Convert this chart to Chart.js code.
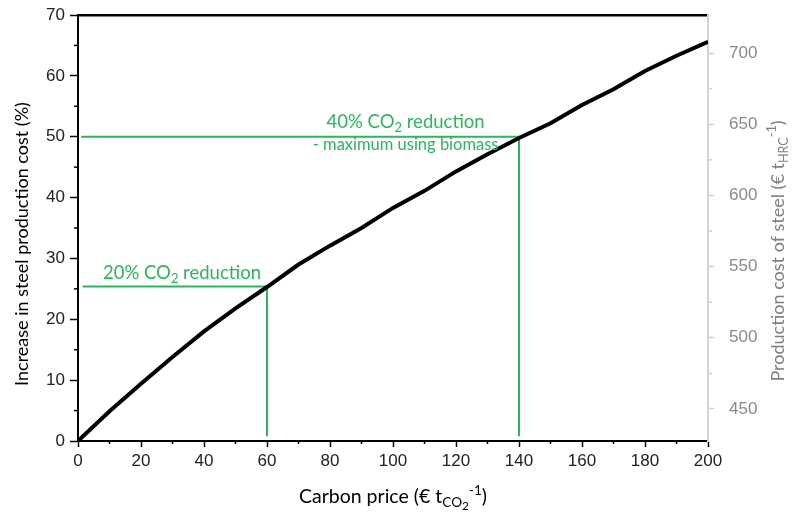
<!DOCTYPE html>
<html>
<head>
<meta charset="utf-8">
<script src="https://cdn.jsdelivr.net/npm/chart.js@4/dist/chart.umd.min.js"></script>
<style>
  html, body { margin: 0; padding: 0; background: #fff; }
</style>
</head>
<body>
<canvas id="steel-chart" width="792" height="516"></canvas>
<script>
// carbon price (EUR per t CO2) vs increase in steel production cost (%)
const carbonPrice = [0, 10, 20, 30, 40, 50, 60, 70, 80, 90, 100, 110, 120, 130, 140, 150, 160, 170, 180, 190, 200];
const costIncrease = [0, 4.9, 9.4, 13.8, 18.0, 21.8, 25.3, 29.0, 32.1, 35.0, 38.3, 41.1, 44.3, 47.1, 49.8, 52.2, 55.2, 57.8, 60.8, 63.3, 65.6];

// marker lines for the two reduction levels
const cut20X = [1.5, 60, 60];
const cut20Y = [25.4, 25.4, 0.8];
const cut40X = [1, 140, 140];
const cut40Y = [50, 50, 0.8];

const xTicks = [0, 20, 40, 60, 80, 100, 120, 140, 160, 180, 200];
const xMinor = [10, 30, 50, 70, 90, 110, 130, 150, 170, 190];
const leftTicks = [0, 10, 20, 30, 40, 50, 60, 70];
const leftMinor = [5, 15, 25, 35, 45, 55, 65];
const rightTicks = [450, 500, 550, 600, 650, 700];
const rightMinor = [475, 525, 575, 625, 675];

const GREEN = '#2bb65c';
const TICK_FAMILY = "'Liberation Sans', Arial, sans-serif";
const TICK_FONT = { family: TICK_FAMILY, size: 17 };
const TITLE_FAMILY = 'Lato, sans-serif';

function pts(xs, ys) {
    return xs.map((x, i) => ({ x: x, y: ys[i] }));
}

// draw text with sub/superscripts; level: 0 normal, 1 sub, 2 sub-sub, -1 sup
function richWidth(ctx, parts, size) {
    let w = 0;
    parts.forEach(p => {
        const s = p.l === 0 ? size : (p.l === 2 ? size * 0.6 : size * 0.7);
        ctx.font = s + 'px ' + TITLE_FAMILY;
        w += ctx.measureText(p.t).width;
    });
    return w;
}

function drawRich(ctx, parts, size, color, cx, cy, rot) {
    ctx.save();
    ctx.translate(cx, cy);
    if (rot) ctx.rotate(rot);
    ctx.fillStyle = color;
    ctx.textBaseline = 'alphabetic';
    ctx.textAlign = 'left';
    let x = -richWidth(ctx, parts, size) / 2;
    parts.forEach(p => {
        let s = size, dy = 0;
        if (p.l === 1) { s = size * 0.7; dy = size * 0.22; }
        if (p.l === 2) { s = size * 0.6; dy = size * 0.38; }
        if (p.l === -1) { s = size * 0.7; dy = -size * 0.42; }
        ctx.font = s + 'px ' + TITLE_FAMILY;
        ctx.fillText(p.t, x, dy);
        x += ctx.measureText(p.t).width;
    });
    ctx.restore();
}

const extras = {
    id: 'extras',
    afterDraw(chart) {
        const ctx = chart.ctx;
        const { x, y, y2 } = chart.scales;

        // minor ticks
        ctx.save();
        ctx.lineWidth = 1.5;
        ctx.strokeStyle = '#000';
        xMinor.forEach(v => {
            const px = x.getPixelForValue(v);
            ctx.beginPath(); ctx.moveTo(px, x.top); ctx.lineTo(px, x.top + 3); ctx.stroke();
        });
        leftMinor.forEach(v => {
            const py = y.getPixelForValue(v);
            ctx.beginPath(); ctx.moveTo(y.right, py); ctx.lineTo(y.right - 4, py); ctx.stroke();
        });
        ctx.strokeStyle = '#d0d0d0';
        rightMinor.forEach(v => {
            const py = y2.getPixelForValue(v);
            ctx.beginPath(); ctx.moveTo(y2.left, py); ctx.lineTo(y2.left + 4, py); ctx.stroke();
        });

        // right axis tick labels
        ctx.fillStyle = '#8a8a8a';
        ctx.font = '17px ' + TICK_FAMILY;
        ctx.textAlign = 'left';
        ctx.textBaseline = 'middle';
        rightTicks.forEach(v => {
            ctx.fillText(String(v), y2.left + 21, y2.getPixelForValue(v));
        });
        ctx.restore();

        // axis titles
        drawRich(ctx, [
            { t: 'Carbon price (€ t', l: 0 }, { t: 'CO', l: 1 }, { t: '2', l: 2 },
            { t: '-1', l: -1 }, { t: ')', l: 0 }
        ], 19.5, '#000', (x.left + x.right) / 2, 503, 0);

        drawRich(ctx, [{ t: 'Increase in steel production cost (%)', l: 0 }],
            18, '#000', 28, 244, -Math.PI / 2);

        drawRich(ctx, [
            { t: 'Production cost of steel (€ t', l: 0 }, { t: 'HRC', l: 1 },
            { t: '-1', l: -1 }, { t: ')', l: 0 }
        ], 18, '#808080', 784, 251, -Math.PI / 2);

        // annotations
        drawRich(ctx, [{ t: '40% CO', l: 0 }, { t: '2', l: 1 }, { t: ' reduction', l: 0 }],
            18.5, GREEN, x.getPixelForValue(104), y.getPixelForValue(51.4), 0);
        drawRich(ctx, [{ t: '- maximum using biomass', l: 0 }],
            16.5, GREEN, x.getPixelForValue(104), y.getPixelForValue(47.8), 0);
        drawRich(ctx, [{ t: '20% CO', l: 0 }, { t: '2', l: 1 }, { t: ' reduction', l: 0 }],
            18.5, GREEN, x.getPixelForValue(33), y.getPixelForValue(26.6), 0);
    }
};

new Chart(document.getElementById('steel-chart'), {
    type: 'line',
    data: {
        datasets: [
            {
                label: 'Cost increase',
                data: pts(carbonPrice, costIncrease),
                borderColor: '#000',
                borderWidth: 4,
                pointRadius: 0,
                tension: 0,
                yAxisID: 'y',
                order: 1
            },
            {
                label: '20% reduction',
                data: pts(cut20X, cut20Y),
                borderColor: GREEN,
                borderWidth: 2,
                pointRadius: 0,
                yAxisID: 'y',
                order: 2
            },
            {
                label: '40% reduction',
                data: pts(cut40X, cut40Y),
                borderColor: GREEN,
                borderWidth: 2,
                pointRadius: 0,
                yAxisID: 'y',
                order: 2
            }
        ]
    },
    options: {
        responsive: false,
        devicePixelRatio: 1,
        animation: false,
        layout: { padding: 0 },
        plugins: {
            legend: { display: false },
            tooltip: { enabled: false }
        },
        scales: {
            x: {
                type: 'linear',
                position: 'bottom',
                min: 0,
                max: 200,
                afterBuildTicks: s => { s.ticks = xTicks.map(v => ({ value: v })); },
                afterFit: s => { s.height = 75; s.paddingLeft = 0; s.paddingRight = 0; },
                ticks: { font: TICK_FONT, color: '#222', padding: 4, maxRotation: 0 },
                grid: { drawOnChartArea: false, tickLength: 6, tickWidth: 1.5, tickColor: '#000' },
                border: { color: '#000', width: 2 }
            },
            xTop: {
                type: 'linear',
                position: 'top',
                min: 0,
                max: 200,
                afterFit: s => { s.height = 15; },
                ticks: { display: false },
                grid: { display: false },
                border: { color: '#000', width: 2.5 }
            },
            y: {
                type: 'linear',
                position: 'left',
                min: 0,
                max: 70,
                afterBuildTicks: s => { s.ticks = leftTicks.map(v => ({ value: v })); },
                afterFit: s => { s.width = 78; s.paddingTop = 0; s.paddingBottom = 0; },
                ticks: { font: TICK_FONT, color: '#222', padding: 5 },
                grid: { drawOnChartArea: false, tickLength: 8, tickWidth: 1.5, tickColor: '#000' },
                border: { color: '#000', width: 2 }
            },
            y2: {
                type: 'linear',
                position: 'right',
                min: 427.5,
                max: 726.7,
                afterBuildTicks: s => { s.ticks = rightTicks.map(v => ({ value: v })); },
                afterFit: s => { s.width = 84; s.paddingTop = 0; s.paddingBottom = 0; },
                ticks: { display: false },
                grid: { drawOnChartArea: false, tickLength: 6, tickWidth: 1.5, tickColor: '#d0d0d0' },
                border: { color: '#d4d4d4', width: 2 }
            }
        }
    },
    plugins: [extras]
});
</script>
</body>
</html>
